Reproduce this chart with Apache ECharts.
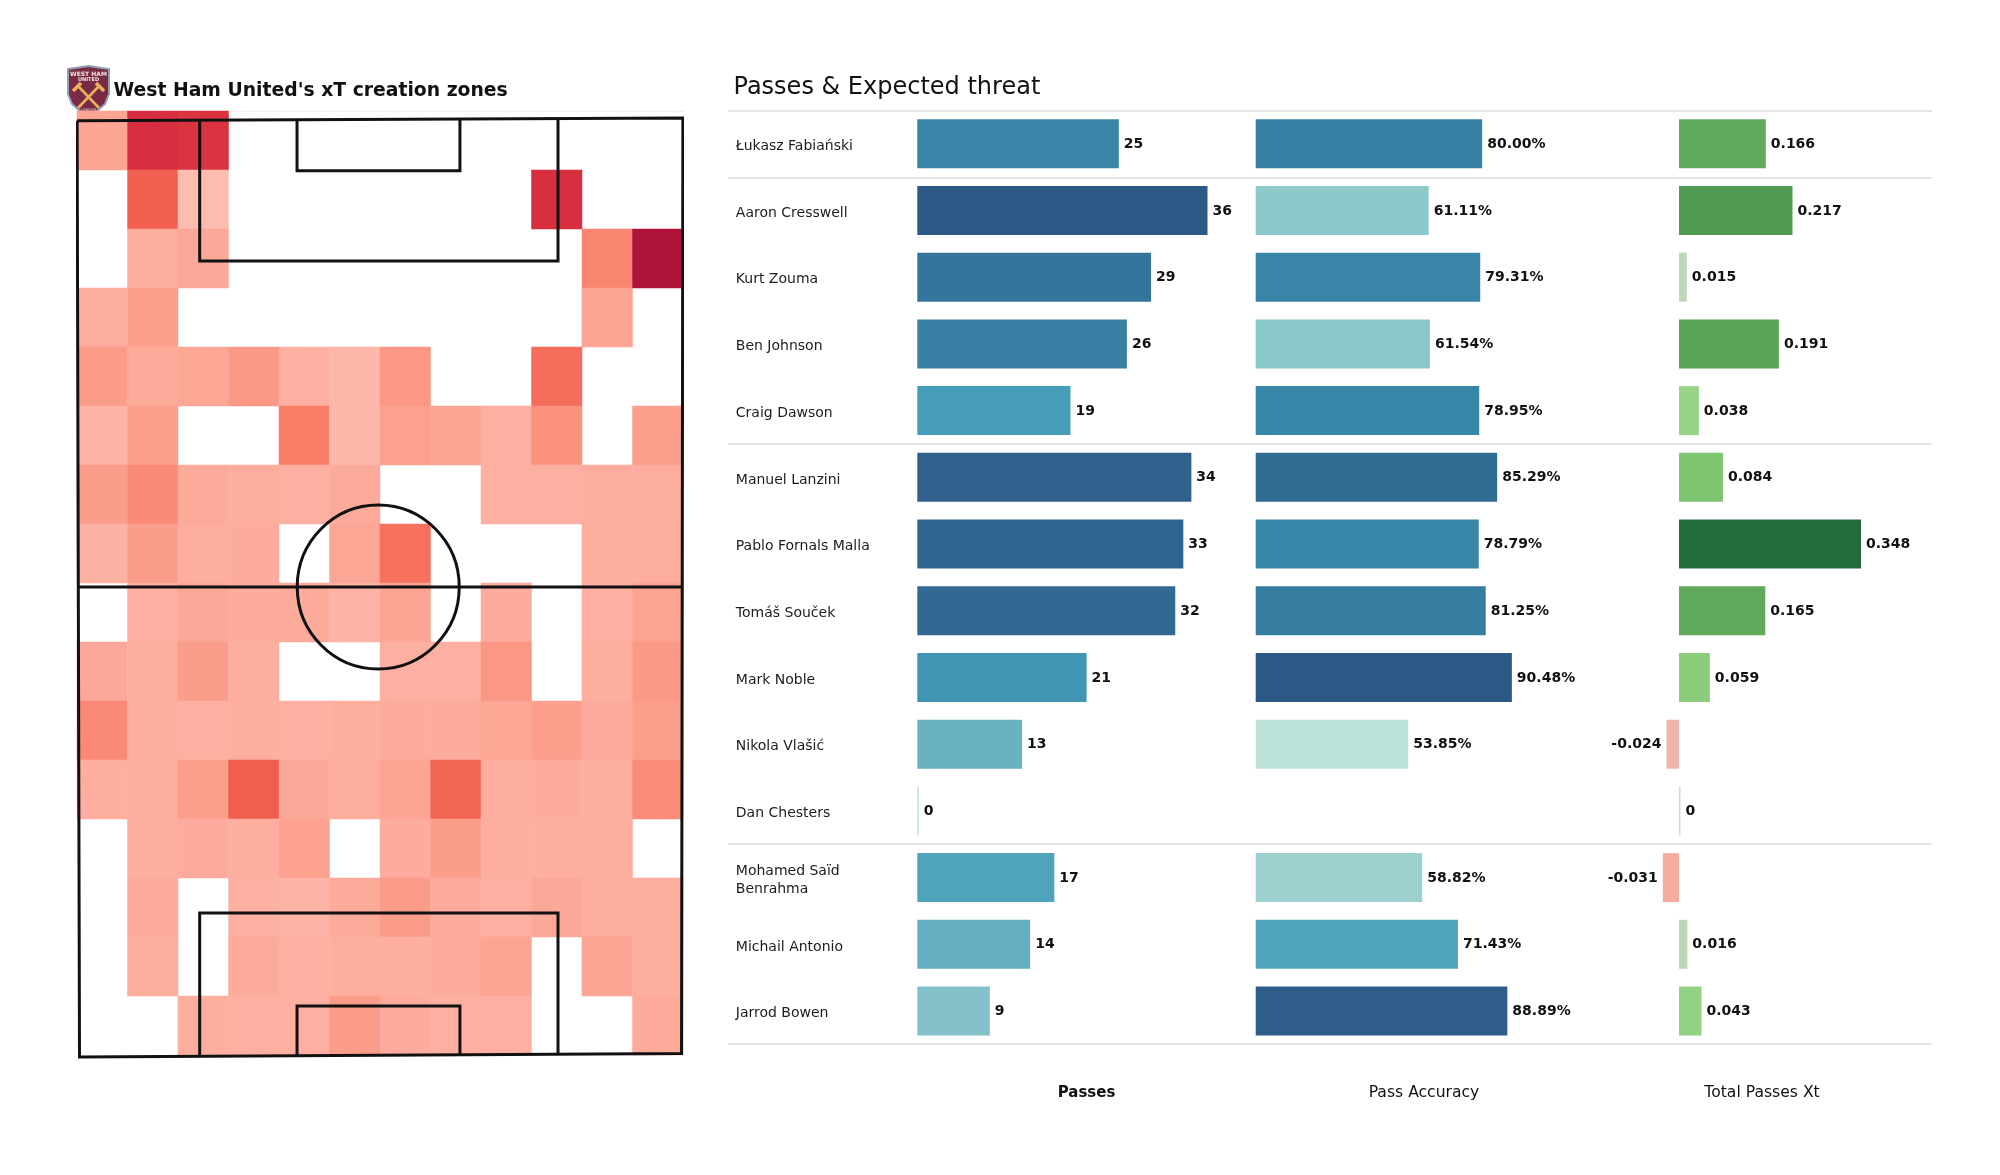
<!DOCTYPE html>
<html><head><meta charset="utf-8">
<style>html,body{margin:0;padding:0;background:#fff}#c{width:2000px;height:1175px}</style>
<script src="https://cdn.jsdelivr.net/npm/echarts@6/dist/echarts.min.js"></script>
</head><body><div id="c"></div>
<script>
// Heat map levels (null = empty zone), top row of picture first
const zoneRow0  = [20,78,76,null,null,null,null,null,null,null,null,null];
const zoneRow1  = [null,55,5,null,null,null,null,null,null,78,null,null];
const zoneRow2  = [null,15,18,null,null,null,null,null,null,null,36,100];
const zoneRow3  = [15,23,null,null,null,null,null,null,null,null,20,null];
const zoneRow4  = [25,17,19,26,13,8,27,null,null,48,null,null];
const zoneRow5  = [11,23,null,null,40,8,22,20,13,30,null,23];
const zoneRow6  = [24,34,17,15,13,17,null,null,13,13,15,15];
const zoneRow7  = [12,24,15,16,null,19,46,null,null,null,15,15];
const zoneRow8  = [null,13,18,16,17,11,20,null,16,null,13,21];
const zoneRow9  = [18,14,24,14,null,null,13,13,27,null,14,26];
const zoneRow10 = [34,14,13,14,13,14,16,16,19,23,16,23];
const zoneRow11 = [14,14,23,56,18,15,20,52,15,16,14,33];
const zoneRow12 = [null,14,16,14,22,null,16,24,14,14,15,null];
const zoneRow13 = [null,17,null,13,11,17,25,16,13,18,15,15];
const zoneRow14 = [null,15,null,17,13,14,14,16,20,null,20,14];
const zoneRow15 = [null,null,14,13,13,25,16,13,13,null,null,17];
const zoneRows = [zoneRow0,zoneRow1,zoneRow2,zoneRow3,zoneRow4,zoneRow5,zoneRow6,zoneRow7,zoneRow8,zoneRow9,zoneRow10,zoneRow11,zoneRow12,zoneRow13,zoneRow14,zoneRow15];

// Pitch geometry, metres
const pitchOutline = [[-0.1,0.3],[68.1,0],[67.95,104.6],[0.17,105],[-0.1,0.3]];
const halfwayLine  = [[0,52.44],[67.9,52.44]];
const topBox       = [[13.7,0.15],[13.7,16],[54.04,16],[54.04,0.05]];
const topSixYard   = [[24.66,0.1],[24.66,5.9],[43,5.9],[43,0.05]];
const bottomBox    = [[13.7,104.9],[13.7,88.9],[54.04,88.9],[54.04,104.7]];
const bottomSixYard= [[24.66,104.9],[24.66,99.3],[43,99.3],[43,104.8]];
const centreCircle = [33.8,52.44,9.12,9.17];

// Table
const players = ["Łukasz Fabiański","Aaron Cresswell","Kurt Zouma","Ben Johnson","Craig Dawson","Manuel Lanzini","Pablo Fornals Malla","Tomáš Souček","Mark Noble","Nikola Vlašić","Dan Chesters","Mohamed Saïd\nBenrahma","Michail Antonio","Jarrod Bowen"];
const passes   = [25,36,29,26,19,34,33,32,21,13,0,17,14,9];
const accuracy = [80.00,61.11,79.31,61.54,78.95,85.29,78.79,81.25,90.48,53.85,null,58.82,71.43,88.89];
const xtTotal  = [0.166,0.217,0.015,0.191,0.038,0.084,0.348,0.165,0.059,-0.024,0,-0.031,0.016,0.043];
const groupLines = [0,1,5,11,14];
const columnTitles = ["Passes","Pass Accuracy","Total Passes Xt"];

const FONT = '"DejaVu Sans", sans-serif';
const INK = '#111';

const heatData = [];
zoneRows.forEach((row,r)=>row.forEach((v,c)=>{ if(v!==null) heatData.push([c,r,v]); }));

const range = n => Array.from({length:n},(_,i)=>String(i));
const hiddenCat = (extra)=>Object.assign({type:'category',show:false},extra);

const pitchLine = (d)=>({type:'line',xAxisIndex:1,yAxisIndex:1,data:d,showSymbol:false,silent:true,z:5,
  lineStyle:{color:INK,width:3,join:'miter'},itemStyle:{opacity:0},animation:false,clip:false});

const barLabel = (fmt)=>({show:true,position:'right',distance:5,color:INK,fontFamily:FONT,fontWeight:'bold',fontSize:14,offset:[0,0.5],formatter:p=>fmt(p.value[0])});
const barRows = (arr)=>arr.map((v,i)=>({value:[v===null?'-':v,i],label:v!==null&&v<0?{position:'left'}:undefined}));

const tableY = {top:110.4,height:934};
const colX = (gi,name,min,max,bold)=>({type:'value',gridIndex:gi,min,max,name,nameLocation:'middle',nameGap:41,
  nameTextStyle:{fontFamily:FONT,fontSize:bold?15:15.6,fontWeight:bold?'bold':'normal',color:INK},
  axisLine:{show:false},axisTick:{show:false},axisLabel:{show:false},splitLine:{show:false}});

const option = {
  animation:false,
  backgroundColor:'#fff',
  textStyle:{fontFamily:FONT},
  title:[
    {text:"West Ham United's xT creation zones",left:113.5,top:82,padding:0,textStyle:{fontFamily:FONT,fontWeight:'bold',fontSize:18.8,color:INK}},
    {text:"Passes & Expected threat",left:733.5,top:76,padding:0,textStyle:{fontFamily:FONT,fontWeight:'normal',fontSize:24,color:INK}}
  ],
  grid:[
    {left:77,top:111,width:606,height:944},           // heat map
    {left:78,top:118,width:604,height:939},           // pitch
    {left:917.3,width:338.4,...tableY},               // passes
    {left:1255.7,width:336.6,...tableY},              // accuracy
    {left:1652.85,width:218.3,...tableY},             // xT
    {left:728,width:1204,top:111,height:933},         // separators
    {left:917.3,width:10,top:113,height:934}          // player names
  ],
  xAxis:[
    {type:'category',gridIndex:0,data:range(12),position:'top',axisLine:{show:true,lineStyle:{color:'#eee',width:1}},axisTick:{show:false},axisLabel:{show:false},splitLine:{show:false}},
    {type:'value',gridIndex:1,min:0,max:68,show:false},
    colX(2,columnTitles[0],0,41.98,true),
    colX(3,columnTitles[1],0,118.9,false),
    colX(4,columnTitles[2],-0.05,0.3674,false),
    {type:'value',gridIndex:5,min:0,max:1,show:false},
    {type:'value',gridIndex:6,min:0,max:1,show:false}
  ],
  yAxis:[
    hiddenCat({gridIndex:0,data:range(16),inverse:true}),
    {type:'value',gridIndex:1,min:0,max:105,inverse:true,show:false},
    hiddenCat({gridIndex:2,data:players,inverse:true}),
    hiddenCat({gridIndex:3,data:players,inverse:true}),
    hiddenCat({gridIndex:4,data:players,inverse:true}),
    {type:'value',gridIndex:5,min:0,max:14,inverse:true,show:false},
    {type:'category',gridIndex:6,data:players,inverse:true,axisLine:{show:false},axisTick:{show:false},
      axisLabel:{show:true,interval:0,align:'left',margin:181.5,fontFamily:FONT,fontSize:14,lineHeight:18,color:'#1c1c1c'}}
  ],
  visualMap:[
    {show:false,seriesIndex:0,dimension:2,min:0,max:100,inRange:{color:['#ffc4ba','#fca594','#f97e68','#ee5648','#d42b3e','#ae1338']}},
    {show:false,seriesIndex:8,dimension:0,min:0,max:36,inRange:{color:['#c0e2dc','#84c0c9','#48a1ba','#367da2','#2d5986']}},
    {show:false,seriesIndex:9,dimension:0,min:53.85,max:90.48,inRange:{color:['#bbe3d9','#8dc9cb','#5aaec0','#3d94b3','#337599','#2c5885']}},
    {show:false,seriesIndex:10,dimension:0,min:-0.04,max:0.36,inRange:{color:['#ff9f90','#d8d8d8','#95d384','#80c671','#70b865','#63aa5c','#56a056','#47914f','#388247','#2b7241','#1f663b']}}
  ],
  series:[
    {type:'heatmap',xAxisIndex:0,yAxisIndex:0,data:heatData,silent:true,z:1,emphasis:{disabled:true},progressive:0},
    pitchLine(pitchOutline),
    pitchLine(halfwayLine),
    pitchLine(topBox),
    pitchLine(topSixYard),
    pitchLine(bottomBox),
    pitchLine(bottomSixYard),
    {type:'custom',xAxisIndex:1,yAxisIndex:1,data:[centreCircle],silent:true,z:5,clip:false,
      encode:{x:0,y:1},
      renderItem:(params,api)=>{
        const c = api.coord([api.value(0),api.value(1)]);
        const s = api.size([api.value(2),api.value(3)]);
        return {type:'ellipse',shape:{cx:c[0],cy:c[1],rx:s[0],ry:s[1]},style:{fill:null,stroke:INK,lineWidth:3}};
      }},
    {type:'bar',xAxisIndex:2,yAxisIndex:2,data:barRows(passes),barWidth:49,barMinHeight:1.5,silent:true,label:barLabel(v=>String(v))},
    {type:'bar',xAxisIndex:3,yAxisIndex:3,data:barRows(accuracy),barWidth:49,silent:true,label:barLabel(v=>v.toFixed(2)+'%')},
    {type:'bar',xAxisIndex:4,yAxisIndex:4,data:barRows(xtTotal),barWidth:49,barMinHeight:1.5,silent:true,label:barLabel(v=>String(v))},
    {type:'line',xAxisIndex:5,yAxisIndex:5,data:[],silent:true,
      markLine:{silent:true,symbol:'none',animation:false,label:{show:false},lineStyle:{color:'#dcdcdc',width:1.6,type:'solid'},
        data:groupLines.map(v=>({yAxis:v}))}}
  ],
  graphic:[{
    type:'group',left:67,top:65,silent:true,z:100,
    children:[
      {type:'polygon',shape:{points:[[0,3],[20.5,0],[41,3],[41,28],[37,38],[29,45],[20.5,50],[12,45],[4,38],[0,28]]},style:{fill:'#7a2a42',stroke:'#8f9fb8',lineWidth:2}},
      {type:'text',style:{x:20.5,y:5,text:'WEST HAM',align:'center',verticalAlign:'top',fontFamily:FONT,fontSize:6,fontWeight:'bold',fill:'#f1e4e4'}},
      {type:'text',style:{x:20.5,y:11.5,text:'UNITED',align:'center',verticalAlign:'top',fontFamily:FONT,fontSize:5,fontWeight:'bold',fill:'#f1e4e4'}},
      {type:'line',shape:{x1:10,y1:20,x2:31,y2:42},style:{stroke:'#e6b35e',lineWidth:2.6}},
      {type:'line',shape:{x1:31,y1:20,x2:10,y2:42},style:{stroke:'#e6b35e',lineWidth:2.6}},
      {type:'line',shape:{x1:5,y1:25,x2:13,y2:17},style:{stroke:'#e6b35e',lineWidth:3.6}},
      {type:'line',shape:{x1:28,y1:17,x2:36,y2:25},style:{stroke:'#e6b35e',lineWidth:3.6}},
      {type:'text',style:{x:20.5,y:42,text:'LONDON',align:'center',verticalAlign:'top',fontFamily:FONT,fontSize:3.5,fill:'#f1e4e4'}}
    ]
  }]
};
const chart = echarts.init(document.getElementById('c'),null,{renderer:'canvas',width:2000,height:1175});
chart.setOption(option);
</script></body></html>
